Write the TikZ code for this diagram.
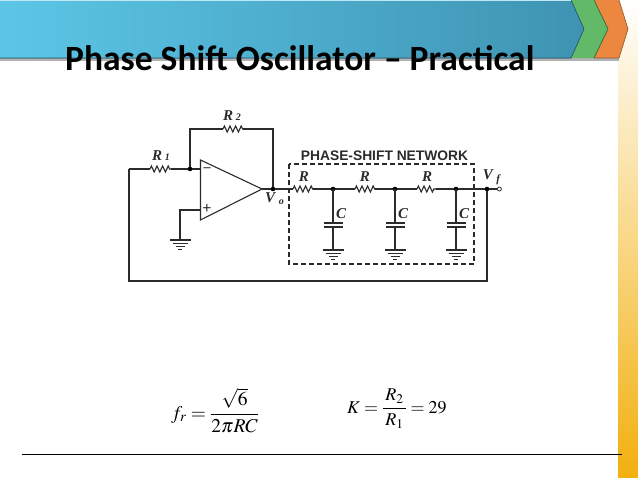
\documentclass[tikz,border=0pt]{standalone}
\usepackage{mathptmx}
\usepackage[no-math]{fontspec}
\setmainfont{Liberation Serif}
\newfontfamily\titlefont{Carlito}
\newfontfamily\labelfont{Liberation Sans}
\usetikzlibrary{positioning,decorations.pathmorphing}
\definecolor{wirecol}{HTML}{2B2B2B}
\definecolor{bandleft}{HTML}{5CC6E6}
\definecolor{bandright}{HTML}{3F93B2}
\definecolor{greenband}{HTML}{62B967}
\definecolor{orangeband}{HTML}{EC8740}
\definecolor{sidebar}{HTML}{F2B00F}
\newcommand{\symb}[1]{\textbf{\textit{#1}}}
\tikzset{
    wire/.style={draw=wirecol,line width=1.1pt},
    res/.style={wire,decorate,decoration={zigzag,segment length=5.6pt,amplitude=3pt}},
    dot/.style={circle,fill=black,inner sep=0pt,minimum size=4.6pt},
    sym/.style={inner sep=0pt,text=wirecol,font=\fontsize{15}{15}\selectfont},
    ground/.pic={
        \draw[wire,line width=1.3pt] (-10.5,0) -- (10.5,0);
        \draw[wire,line width=1.3pt] (-7.5,-3.6) -- (7.5,-3.6);
        \draw[wire,line width=1.3pt] (-4.5,-6.8) -- (4.5,-6.8);
        \draw[wire,line width=1.3pt] (-2,-9.6) -- (2,-9.6);
    }
}
\begin{document}
\begin{tikzpicture}[x=1pt,y=1pt]
    \useasboundingbox (0,0) rectangle (638,-479);
    \fill[white] (0,0) rectangle (638,-479);
    \fill[top color=white,bottom color=sidebar] (618,0) rectangle (638,-477);
    % header band
    \fill[black!30] (0,-60.5) -- (619,-60.5) -- (619,-57) -- (0,-57) -- cycle;
    \fill[orangeband] (594,0) -- (619,0) -- (628,-29) -- (619,-58) -- (594,-58) -- cycle;
    \draw[orangeband!60!black,line width=.6pt] (619,0) -- (628,-29) -- (619,-58) -- (594,-58);
    \fill[greenband] (571,0) -- (594,0) -- (608,-29) -- (594,-58) -- (571,-58) -- cycle;
    \draw[greenband!50!black,line width=.6pt] (594,0) -- (608,-29) -- (594,-58);
    \fill[left color=bandleft,right color=bandright] (0,0) -- (571,0) -- (584,-29) -- (571,-58) -- (0,-58) -- cycle;
    \draw[bandright!60!black,line width=.6pt] (571,0) -- (584,-29) -- (571,-58) -- (0,-58);
    \draw[bandleft!40!white,line width=1pt] (0,-.5) -- (571,-.5);
    \node[anchor=base west,inner sep=0pt,font=\titlefont\bfseries\fontsize{35.5}{36}\selectfont] (title) at (65,-70) {Phase Shift Oscillator – Practical};
    % circuit
    \coordinate (inv) at (190,-169);
    \coordinate[left=61pt of inv] (fbl);
    \coordinate[left=40pt of inv] (r1a);
    \coordinate[left=19pt of inv] (r1b);
    \coordinate[right=10.5pt of inv] (minus);
    \coordinate[above=40pt of inv] (fbtop);
    \coordinate (oatop) at (200.5,-160);
    \coordinate (oabot) at (200.5,-220);
    \coordinate (oatip) at (262,-189);
    \coordinate[right=11pt of oatip] (vo);
    \coordinate (fbtopr) at (vo |- fbtop);
    \coordinate (r2a) at (223,-129);
    \coordinate[right=20pt of r2a] (r2b);
    \coordinate (plus) at (200.5,-210);
    \coordinate[left=20.5pt of plus] (pluscorner);
    \coordinate[below=30pt of pluscorner] (gnda);
    \draw[wire] (fbl) -- (r1a);
    \draw[res] (r1a) -- (r1b);
    \draw[wire] (r1b) -- (minus);
    \draw[wire] (inv) -- (fbtop) -- (r2a);
    \draw[res] (r2a) -- (r2b);
    \draw[wire] (r2b) -- (fbtopr) -- (vo);
    \draw[wire] (plus) -- (pluscorner) -- (gnda);
    \pic at (gnda) {ground};
    \draw[wire,line join=miter] (oatop) -- (oatip) -- (oabot) -- cycle;
    \node[sym,font=\bfseries\fontsize{14}{14}\selectfont] (minussign) at (207,-169.5) {–};
    \node[sym,font=\bfseries\fontsize{16}{16}\selectfont] (plussign) at (207,-209) {+};
    % network
    \coordinate (ra) at (293,-189);
    \coordinate[right=20pt of ra] (rb);
    \coordinate[right=20pt of rb] (j1);
    \coordinate[right=22pt of j1] (rc);
    \coordinate[right=20pt of rc] (rd);
    \coordinate[right=20pt of rd] (j2);
    \coordinate[right=22pt of j2] (re);
    \coordinate[right=19pt of re] (rf);
    \coordinate[right=20pt of rf] (j3);
    \coordinate[right=31pt of j3] (fb);
    \node[circle,draw=wirecol,fill=white,line width=.8pt,inner sep=0pt,minimum size=4pt,right=10pt of fb] (vf) {};
    \coordinate[below=92pt of fb] (fbbot);
    \coordinate (fbcorner) at (fbl |- fbbot);
    \draw[wire] (oatip) -- (ra);
    \draw[res] (ra) -- (rb);
    \draw[wire] (rb) -- (rc);
    \draw[res] (rc) -- (rd);
    \draw[wire] (rd) -- (re);
    \draw[res] (re) -- (rf);
    \draw[wire] (rf) -- (vf);
    \draw[wire] (fb) -- (fbbot) -- (fbcorner) -- (fbl);
    \node[dot] (dinv) at (inv) {};
    \node[dot] (dvo) at (vo) {};
    \node[dot] (d1) at (j1) {};
    \node[dot] (d2) at (j2) {};
    \node[dot] (d3) at (j3) {};
    \node[dot] (d4) at (fb) {};
    \foreach \j in {j1,j2,j3}{
        \coordinate[below=34pt of \j] (\j top);
        \coordinate[below=38pt of \j] (\j bot);
        \coordinate[below=61pt of \j] (\j gnd);
        \draw[wire] (\j) -- (\j top);
        \draw[wire,line width=1.5pt] ([xshift=-9.5pt]\j top) -- ([xshift=9.5pt]\j top);
        \draw[wire,line width=1.5pt] ([xshift=-9.5pt]\j bot) -- ([xshift=9.5pt]\j bot);
        \draw[wire] (\j bot) -- (\j gnd);
        \pic at (\j gnd) {ground};
        \node[sym,font=\bfseries\itshape\fontsize{15}{15}\selectfont,above right=4pt and 3pt of \j top] (\j cap) {C};
    }
    \draw[wirecol,line width=1.1pt,dash pattern=on 5pt off 3pt] (289,-164) rectangle (474,-264);
    \node[anchor=base,inner sep=0pt,text=wirecol,font=\labelfont\bfseries\fontsize{13.8}{14}\selectfont] (nettitle) at (384.5,-160) {PHASE-SHIFT NETWORK};
    % labels
    \node[sym] (lr1) at (161,-156) {\symb{R}\,{\fontsize{10}{10}\selectfont\symb{1}}};
    \node[sym] (lr2) at (232,-116) {\symb{R}\,{\fontsize{10}{10}\selectfont\symb{2}}};
    \node[sym] (lvo) at (274.5,-199) {\symb{V}\,\raisebox{-2pt}{\fontsize{10}{10}\selectfont\symb{o}}};
    \node[sym] (lvf) at (492,-177) {\symb{V}\,\raisebox{-3pt}{\fontsize{11}{11}\selectfont\symb{f}}};
    \node[sym] (lra) at (304,-177) {\symb{R}};
    \node[sym] (lrb) at (365,-177) {\symb{R}};
    \node[sym] (lrc) at (427,-177) {\symb{R}};
    % formulas
    \node[anchor=base west,inner sep=0pt,font=\fontsize{19.5}{22}\selectfont] (ffr) at (171,-419) {$\displaystyle f_{r} = \frac{\sqrt{6}}{2\pi RC}$};
    \node[anchor=base west,inner sep=0pt,font=\fontsize{18}{22}\selectfont] (fk) at (347,-413) {$\displaystyle K = \frac{\hspace{2pt}R_{2}\hspace{2pt}}{R_{1}} = 29$};
    \coordinate (rulea) at (22,-454);
    \coordinate (ruleb) at (622,-454);
    \draw[black,line width=.8pt] (rulea) -- (ruleb);
\end{tikzpicture}
\end{document}
